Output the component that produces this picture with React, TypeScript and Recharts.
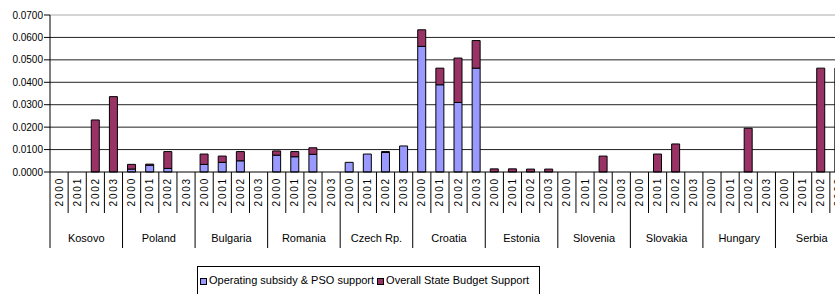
import { Bar, BarChart, CartesianGrid, ReferenceLine, XAxis, YAxis } from "recharts";

const countries = [
  "Kosovo",
  "Poland",
  "Bulgaria",
  "Romania",
  "Czech Rp.",
  "Croatia",
  "Estonia",
  "Slovenia",
  "Slovakia",
  "Hungary",
  "Serbia",
];
const years = ["2000", "2001", "2002", "2003"];

// one value per country/year, in the order of `countries` x `years`
const operatingSubsidy = [
  0, 0, 0, 0, // Kosovo
  0.0013, 0.003, 0.0016, 0, // Poland
  0.0034, 0.0043, 0.005, 0, // Bulgaria
  0.0075, 0.0068, 0.0079, 0, // Romania
  0.0043, 0.008, 0.0087, 0.0116, // Czech Rp.
  0.056, 0.0389, 0.031, 0.0463, // Croatia
  0, 0, 0, 0, // Estonia
  0, 0, 0, 0, // Slovenia
  0, 0, 0, 0, // Slovakia
  0, 0, 0, 0, // Hungary
  0, 0, 0, 0, // Serbia
];
const stateBudget = [
  0, 0, 0.0232, 0.0336,
  0.0021, 0.0005, 0.0075, 0,
  0.0046, 0.0028, 0.0041, 0,
  0.0019, 0.0023, 0.0029, 0,
  0, 0, 0.0004, 0,
  0.0074, 0.0074, 0.0198, 0.0123,
  0.0014, 0.0014, 0.0013, 0.0013,
  0, 0, 0.0071, 0,
  0, 0.008, 0.0125, 0,
  0, 0, 0.0195, 0,
  0, 0, 0.0463, 0.0463,
];
const yTicks = [0, 0.01, 0.02, 0.03, 0.04, 0.05, 0.06, 0.07];

const BLUE = "#9999ff";
const MAROON = "#993366";
const FONT = "'Liberation Sans', Arial, sans-serif";

const CHART_W = 850;
const CHART_H = 294;
const Y_W = 50;
const RIGHT = 2;
const YEAR_AXIS_H = 41;
const COUNTRY_AXIS_H = 35;

const rows = countries.flatMap((c, ci) =>
  years.map((y, yi) => ({
    key: `${c} ${y}`,
    country: c,
    year: y,
    op: operatingSubsidy[ci * 4 + yi],
    budget: stateBudget[ci * 4 + yi],
  }))
);
const slot = (CHART_W - Y_W - RIGHT) / rows.length;

function YearTick(props: any) {
  const { x, y, index, payload } = props;
  const left = x - slot / 2;
  const first = index % 4 === 0;
  const bx = x + 3.5;
  const by = y + 5;
  return (
    <g>
      <line
        x1={left}
        x2={left}
        y1={y}
        y2={y + (first ? YEAR_AXIS_H + COUNTRY_AXIS_H : YEAR_AXIS_H)}
        stroke="#000"
      />
      <text
        x={bx}
        y={by}
        transform={`rotate(-90, ${bx}, ${by})`}
        textAnchor="end"
        fontSize={10}
        letterSpacing={1.8}
        fontFamily={FONT}
        fill="#000"
      >
        {rows[index]?.year ?? payload.value}
      </text>
    </g>
  );
}

function CountryTick(props: any) {
  const { x, y, index } = props;
  if (index % 4 !== 1) return null;
  return (
    <text
      x={x + slot / 2}
      y={y + 29}
      textAnchor="middle"
      fontSize={11}
      fontFamily={FONT}
      fill="#000"
    >
      {rows[index].country}
    </text>
  );
}

function ValueTick(props: any) {
  const { x, y, payload } = props;
  return (
    <text
      x={x}
      y={y + 3.5}
      textAnchor="end"
      fontSize={10}
      fontFamily={FONT}
      fill="#000"
    >
      {Number(payload.value).toFixed(4)}
    </text>
  );
}

function LegendBox() {
  const sq = (c: string) => (
    <span
      style={{
        display: "inline-block",
        width: 5,
        height: 5,
        background: c,
        border: "1px solid #000",
        marginRight: 2,
        verticalAlign: "middle",
      }}
    />
  );
  return (
    <div
      style={{
        position: "absolute",
        left: 197,
        top: 266,
        width: 343,
        height: 40,
        border: "1px solid #000",
        boxSizing: "border-box",
        fontFamily: FONT,
        fontSize: 11,
        lineHeight: "26px",
        paddingLeft: 2,
        whiteSpace: "nowrap",
      }}
    >
      {sq(BLUE)}
      <span style={{ marginRight: 3 }}>Operating subsidy &amp; PSO support</span>
      {sq(MAROON)}
      <span>Overall State Budget Support</span>
    </div>
  );
}

export default function App() {
  return (
    <div
      style={{
        position: "absolute",
        left: 0,
        top: 0,
        width: 835,
        height: 294,
        overflow: "hidden",
        background: "#fff",
      }}
    >
      <BarChart
        width={CHART_W}
        height={CHART_H}
        data={rows}
        margin={{ top: 15, right: RIGHT, left: 0, bottom: CHART_H - 15 - 157 - YEAR_AXIS_H - COUNTRY_AXIS_H }}
        barSize={8}
      >
        <CartesianGrid
          vertical={false}
          horizontalValues={[0.01, 0.02, 0.03, 0.04, 0.05, 0.06]}
          stroke="#222"
        />
        <ReferenceLine y={0.07} stroke="#aaa" />
        <YAxis
          width={Y_W}
          domain={[0, 0.07]}
          ticks={yTicks}
          interval={0}
          stroke="#000"
          tickSize={6}
          tickMargin={1}
          tick={<ValueTick />}
        />
        <XAxis
          xAxisId={0}
          dataKey="key"
          interval={0}
          height={YEAR_AXIS_H}
          stroke="#000"
          tickLine={false}
          tickSize={0}
          tickMargin={0}
          tick={<YearTick />}
        />
        <XAxis
          xAxisId={1}
          dataKey="key"
          interval={0}
          height={COUNTRY_AXIS_H}
          axisLine={false}
          tickLine={false}
          tickSize={0}
          tickMargin={0}
          tick={<CountryTick />}
        />
        <Bar
          dataKey="op"
          name="Operating subsidy & PSO support"
          stackId="a"
          fill={BLUE}
          stroke="#000"
          strokeWidth={1}
          isAnimationActive={false}
        />
        <Bar
          dataKey="budget"
          name="Overall State Budget Support"
          stackId="a"
          fill={MAROON}
          stroke="#000"
          strokeWidth={1}
          isAnimationActive={false}
        />
      </BarChart>
      <LegendBox />
    </div>
  );
}
